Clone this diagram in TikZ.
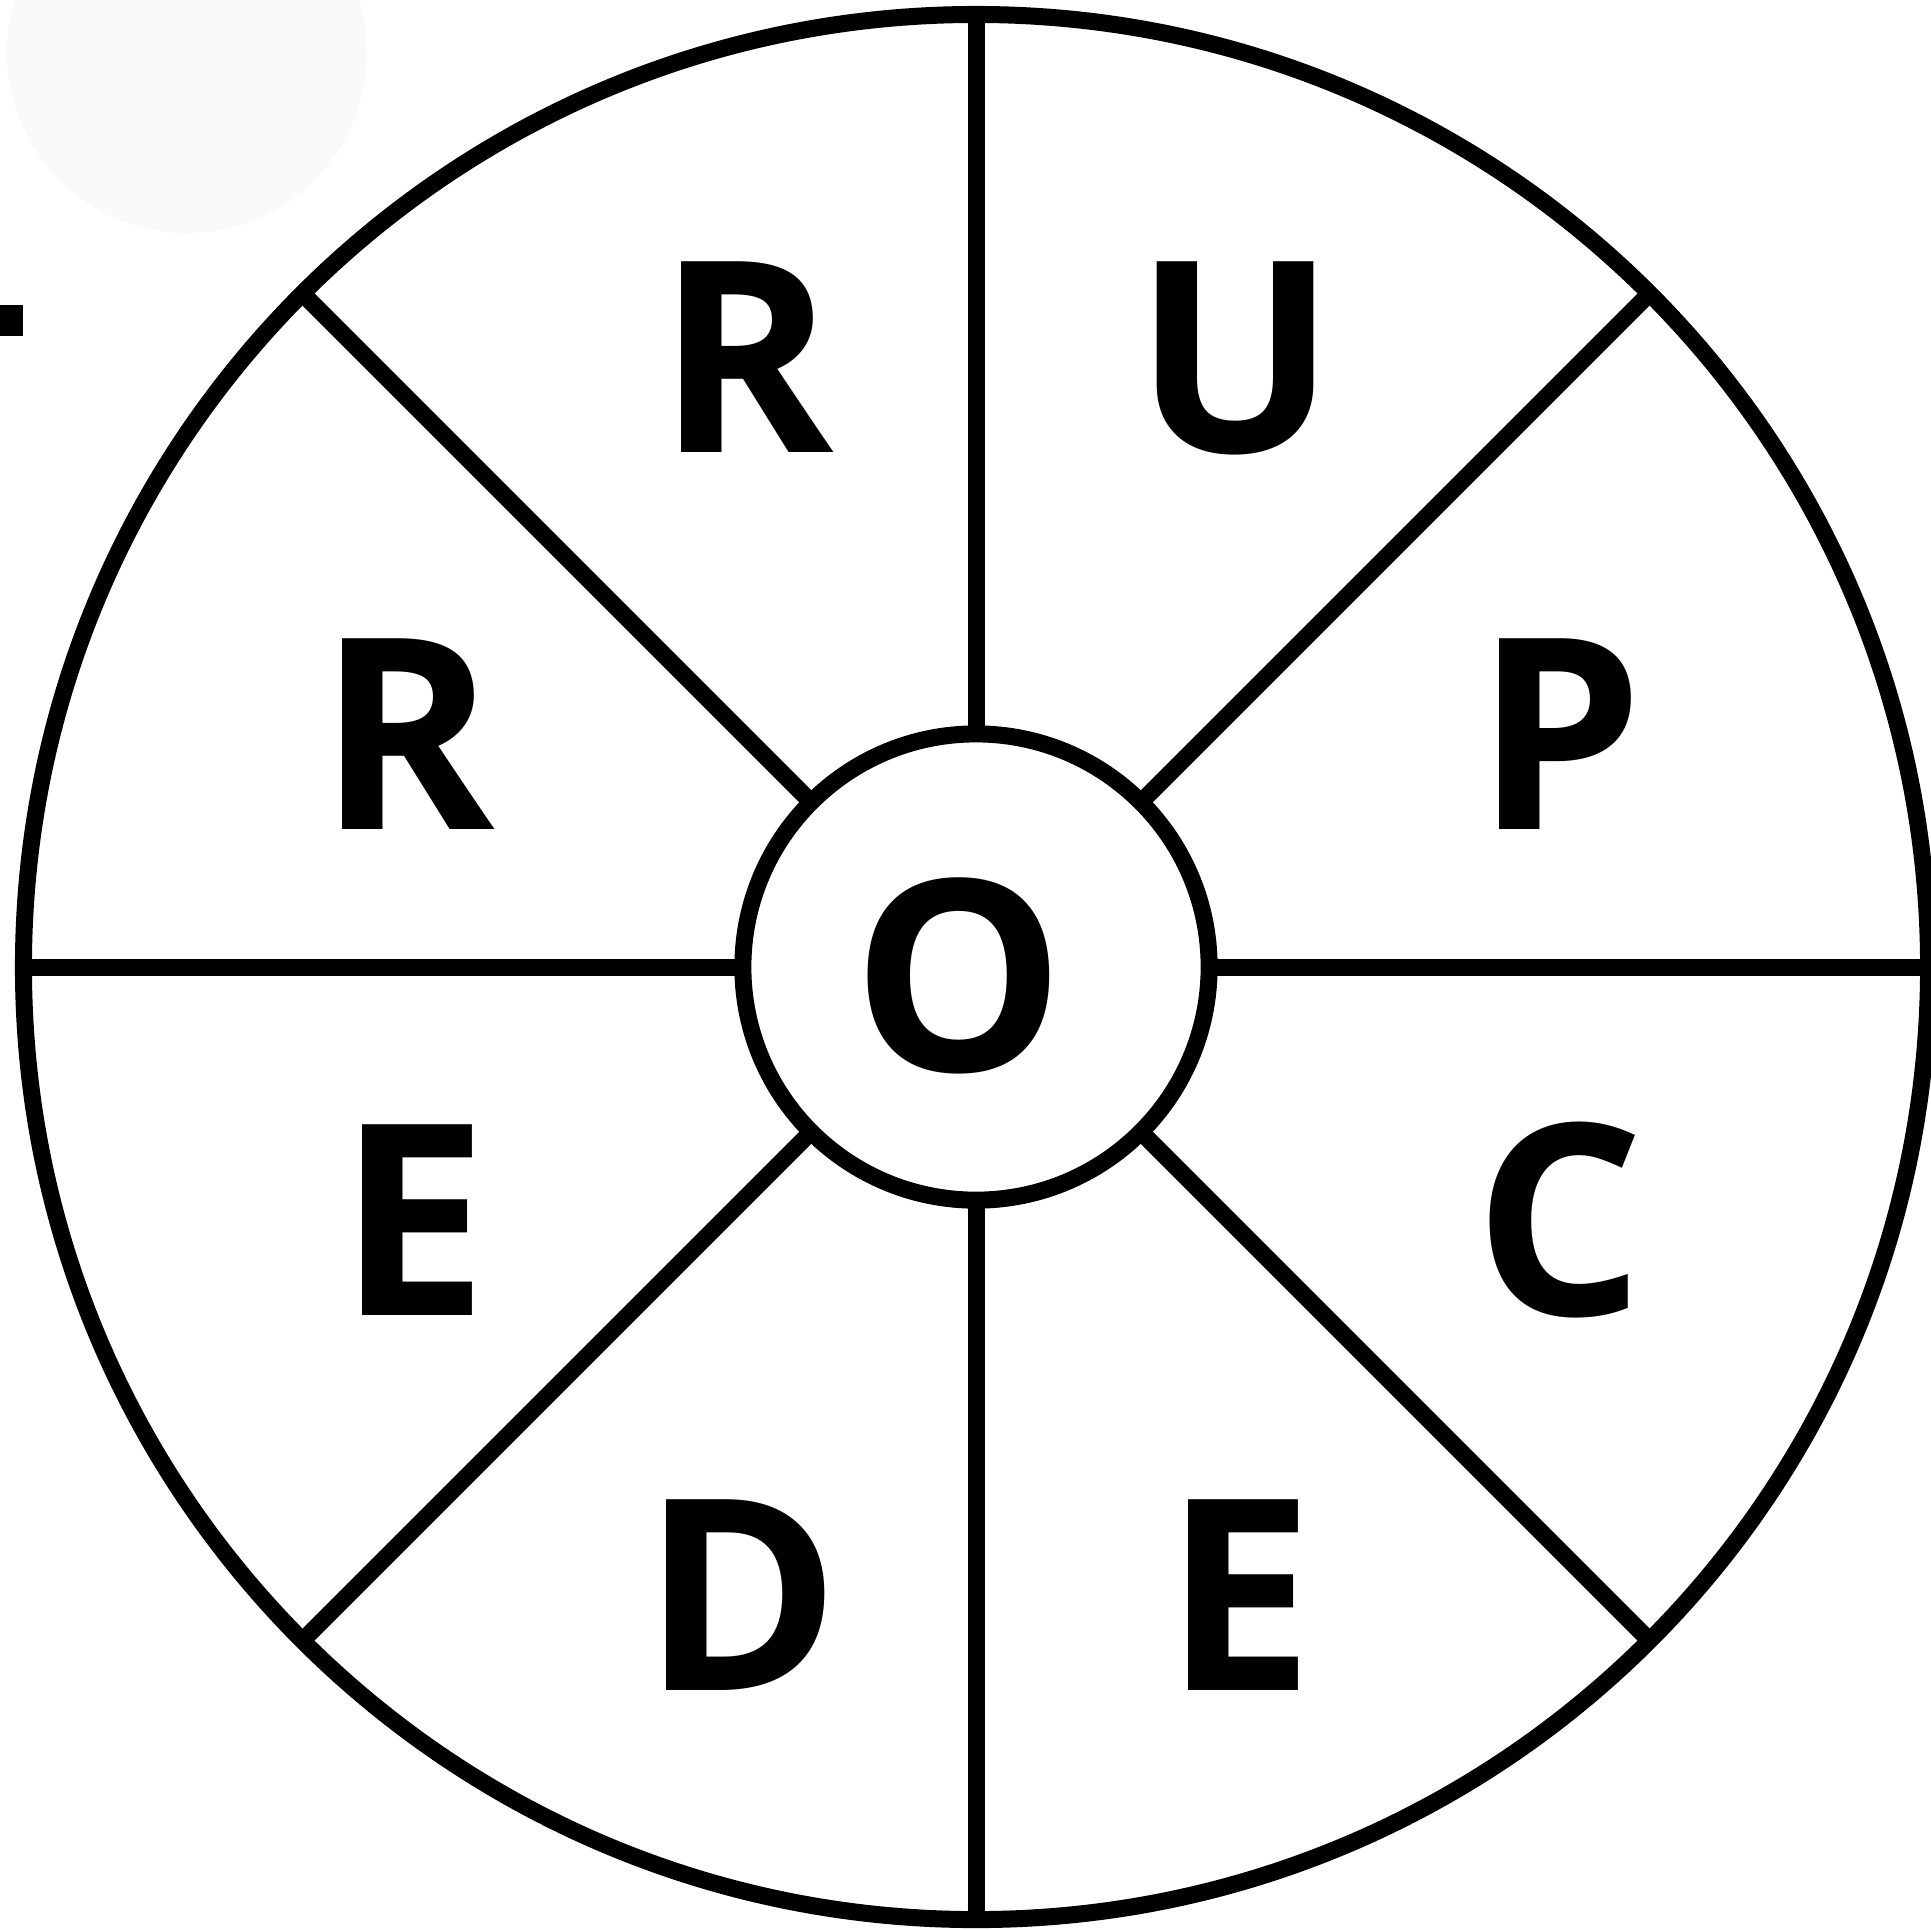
\documentclass[tikz,border=0pt]{standalone}
\usepackage{fontspec}
\setmainfont{Open Sans}
\definecolor{faint}{HTML}{F9F9F9}
\begin{document}
\begin{tikzpicture}[x=0.01cm,y=-0.01cm,
  ring/.style={draw=black,line width=0.17cm,circle,inner sep=0pt,outer sep=0pt},
  spoke/.style={draw=black,line width=0.17cm},
  lt/.style={font=\fontsize{76pt}{76pt}\selectfont\bfseries,anchor=base,inner sep=0pt,text=black}]
\useasboundingbox (0,0) rectangle (1931,1929);
% faint background blob and small mark
\fill[faint] (187,53) circle[radius=180];
\fill[black] (0,305) rectangle (23,336);
% circles
\node[ring,minimum size=19.04cm] (outer) at (976,967) {};
\node[ring,minimum size=4.66cm] (inner) at (976,967) {};
% spokes
\foreach \a in {0,45,...,315}{
  \draw[spoke] (inner.\a) -- (outer.\a);
}
% letters
\node[lt] (l1) at (746,452) {R};
\node[lt] (l2) at (1235,452) {U};
\node[lt] (l3) at (407,829) {R};
\node[lt] (l4) at (1559,829) {P};
\node[lt] (l5) at (959,1071) {O};
\node[lt] (l6) at (413,1315) {E};
\node[lt] (l7) at (1560,1315) {C};
\node[lt] (l8) at (741,1690) {D};
\node[lt] (l9) at (1239,1690) {E};
\end{tikzpicture}
\end{document}
